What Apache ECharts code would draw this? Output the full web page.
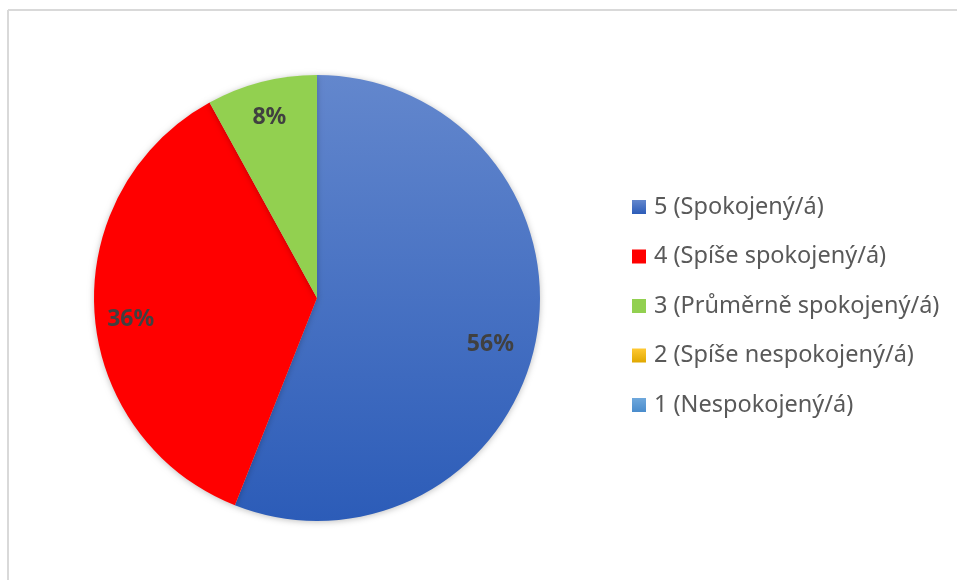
<!DOCTYPE html>
<html>
<head>
<meta charset="utf-8">
<script src="https://cdn.jsdelivr.net/npm/echarts@6/dist/echarts.min.js"></script>
<style>
html,body{margin:0;padding:0;background:#fff;}
#chart{width:957px;height:580px;}
</style>
</head>
<body>
<div id="chart"></div>
<script>
const categories = ['5 (Spokojený/á)', '4 (Spíše spokojený/á)', '3 (Průměrně spokojený/á)', '2 (Spíše nespokojený/á)', '1 (Nespokojený/á)'];
const values = [56, 36, 8, 0, 0];
const colors = [
  {type:'linear',x:0,y:0,x2:0,y2:1,colorStops:[{offset:0,color:'#6387cd'},{offset:1,color:'#2c5cb8'}]},
  '#ff0000',
  '#92d050',
  {type:'linear',x:0,y:0,x2:0,y2:1,colorStops:[{offset:0,color:'#ffc933'},{offset:1,color:'#e0a800'}]},
  {type:'linear',x:0,y:0,x2:0,y2:1,colorStops:[{offset:0,color:'#6fa8dc'},{offset:1,color:'#4a8ccc'}]}
];
const labelOffsets = [[-7, 12], [-3, 10], [-2, -3], [0, 0], [0, 0]];

const chart = echarts.init(document.getElementById('chart'), null, {renderer:'canvas'});
const cx = 317, cy = 298, R = 223;
const data = categories.map((c, i) => ({name: c, value: values[i], itemStyle: {color: colors[i]}}));
const font = '"Noto Sans", "Open Sans", "DejaVu Sans", sans-serif';

chart.setOption({
  animation: false,
  backgroundColor: '#fff',
  graphic: [
    {type:'line', shape:{x1:8, y1:10, x2:957, y2:10}, style:{stroke:'#d9d9d9', lineWidth:2}, silent:true},
    {type:'line', shape:{x1:8, y1:10, x2:8, y2:580}, style:{stroke:'#d9d9d9', lineWidth:2}, silent:true}
  ],
  legend: {
    orient: 'vertical',
    left: 632,
    top: 195,
    padding: 0,
    itemWidth: 14,
    itemHeight: 14,
    itemGap: 25.5,
    icon: 'rect',
    textStyle: {fontFamily: font, fontSize: 23.5, color: '#595959', lineHeight: 20, padding: [0,0,0,3]},
    data: categories
  },
  series: [
    {
      type: 'pie',
      center: [cx, cy],
      radius: [0, R],
      startAngle: 90,
      clockwise: true,
      avoidLabelOverlap: false,
      label: {show: false},
      labelLine: {show: false},
      itemStyle: {borderWidth: 0, shadowBlur: 6, shadowColor: 'rgba(0,0,0,0.25)', shadowOffsetY: 1},
      emphasis: {disabled: true},
      data: data
    },
    {
      type: 'pie',
      center: [cx, cy],
      radius: [R * 0.62, R],
      startAngle: 90,
      clockwise: true,
      silent: true,
      avoidLabelOverlap: false,
      legendHoverLink: false,
      itemStyle: {color: 'rgba(0,0,0,0)', borderWidth: 0},
      label: {
        show: true,
        position: 'inside',
        fontFamily: font,
        fontWeight: 'bold',
        fontSize: 23,
        color: '#404040',
        formatter: p => p.value > 0 ? p.percent.toFixed(0) + '%' : ''
      },
      labelLine: {show: false},
      emphasis: {disabled: true},
      data: categories.map((c, i) => ({name: c + ' ', value: values[i], label: {offset: labelOffsets[i]}}))
    }
  ]
});
</script>
</body>
</html>
